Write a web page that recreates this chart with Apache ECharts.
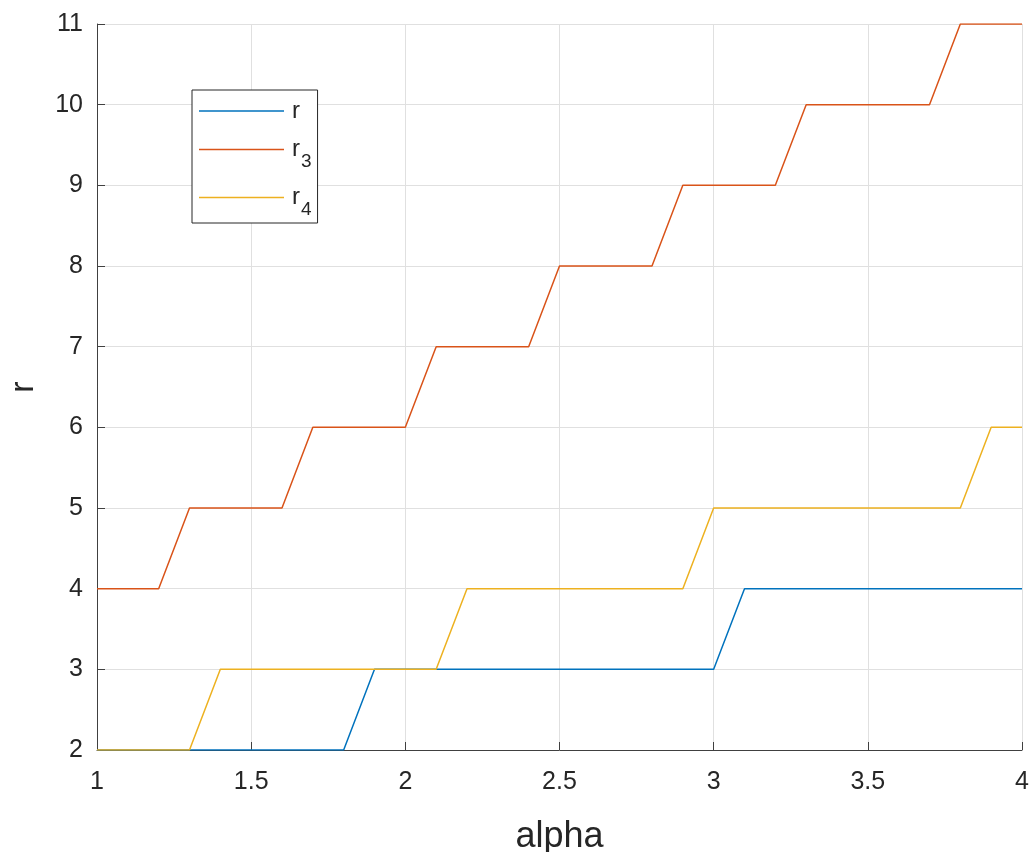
<!DOCTYPE html>
<html>
<head>
<meta charset="utf-8">
<script src="https://cdn.jsdelivr.net/npm/echarts@6/dist/echarts.min.js"></script>
<style>html,body{margin:0;padding:0;background:#fff}#c{width:1034px;height:852px}</style>
</head>
<body>
<div id="c"></div>
<script>
const alpha = [1.0,1.1,1.2,1.3,1.4,1.5,1.6,1.7,1.8,1.9,2.0,2.1,2.2,2.3,2.4,2.5,2.6,2.7,2.8,2.9,3.0,3.1,3.2,3.3,3.4,3.5,3.6,3.7,3.8,3.9,4.0];
const rVals  = [2,2,2,2,2,2,2,2,2,3,3,3,3,3,3,3,3,3,3,3,3,4,4,4,4,4,4,4,4,4,4];
const r3Vals = [4,4,4,5,5,5,5,6,6,6,6,7,7,7,7,8,8,8,8,9,9,9,9,10,10,10,10,10,11,11,11];
const r4Vals = [2,2,2,2,3,3,3,3,3,3,3,3,4,4,4,4,4,4,4,4,5,5,5,5,5,5,5,5,5,6,6];
const seriesNames = ['r','r3','r4'];
const legendLabels = {r:'{m|r}', r3:'{m|r}{s|3}', r4:'{m|r}{s|4}'};

const pair = v => alpha.map((a,i)=>[a,v[i]]);
const colors = ['#0072BD','#D95319','#EDB120'];
const txt = '#262626';
const ff = 'Liberation Sans';

const chart = echarts.init(document.getElementById('c'), null, {renderer:'canvas'});
chart.setOption({
  animation:false,
  color:colors,
  grid:{left:97,right:12,top:24,bottom:102,containLabel:false,outerBoundsMode:'none'},
  legend:{
    orient:'vertical', left:192, top:90,
    borderColor:'#262626', borderWidth:1, borderRadius:0,
    backgroundColor:'#fff',
    padding:[9,6,4,7],
    icon:'rect',
    itemWidth:85, itemHeight:1.5, itemGap:5,
    data:seriesNames,
    formatter: n => legendLabels[n],
    textStyle:{
      color:txt, fontFamily:ff, fontSize:24,
      rich:{
        m:{fontSize:24, lineHeight:25, color:txt, fontFamily:ff, padding:[0,0,0,3]},
        s:{fontSize:19, lineHeight:19, color:txt, fontFamily:ff, padding:[24,0,0,1]}
      }
    }
  },
  xAxis:{
    type:'value', min:1, max:4, interval:0.5,
    name:'alpha', nameLocation:'middle', nameGap:69,
    nameTextStyle:{fontSize:36, color:txt, fontFamily:ff},
    axisLine:{show:true, onZero:false, lineStyle:{color:'#404040', width:1}},
    axisTick:{show:true, inside:true, length:8, lineStyle:{color:'#404040'}},
    axisLabel:{fontSize:25, color:txt, margin:20, fontFamily:ff},
    splitLine:{show:true, lineStyle:{color:'#e0e0e0', width:1}}
  },
  yAxis:{
    type:'value', min:2, max:11, interval:1,
    name:'r', nameLocation:'middle', nameGap:56, nameRotate:90,
    nameTextStyle:{fontSize:34, color:txt, fontFamily:ff},
    axisLine:{show:true, onZero:false, lineStyle:{color:'#404040', width:1}},
    axisTick:{show:true, inside:true, length:8, lineStyle:{color:'#404040'}},
    axisLabel:{fontSize:25, color:txt, margin:14, fontFamily:ff, padding:[10,0,0,0]},
    splitLine:{show:true, lineStyle:{color:'#e0e0e0', width:1}}
  },
  series:[
    {name:'r', type:'line', data:pair(rVals), symbol:'none', lineStyle:{width:1.5}},
    {name:'r3', type:'line', data:pair(r3Vals), symbol:'none', lineStyle:{width:1.5}},
    {name:'r4', type:'line', data:pair(r4Vals), symbol:'none', lineStyle:{width:1.5}}
  ]
});
</script>
</body>
</html>
